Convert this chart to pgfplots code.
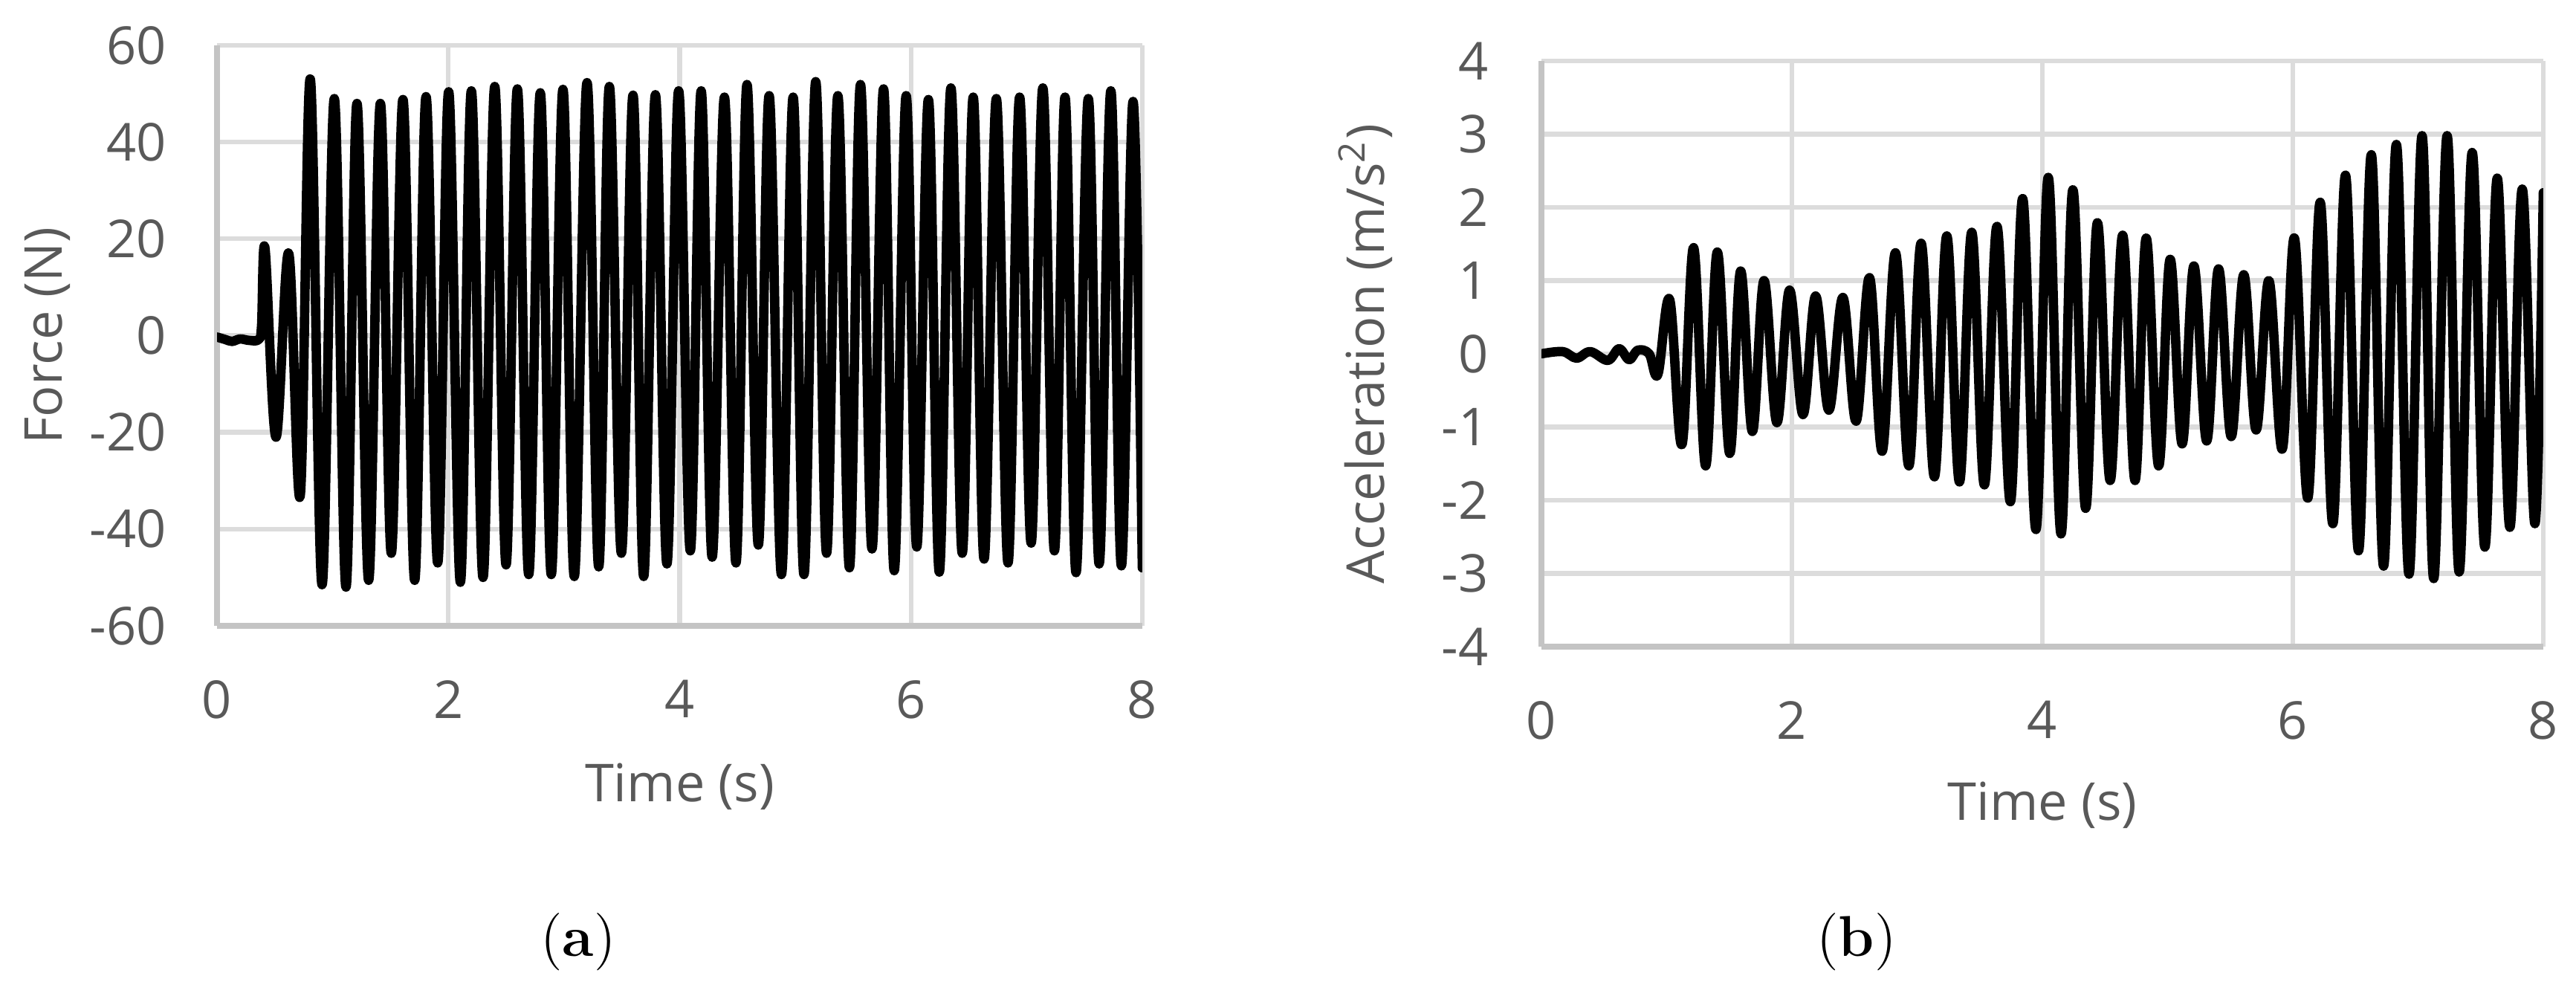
\documentclass[border=0pt]{standalone}
\usepackage{fontspec}
\usepackage{pgfplots}
\pgfplotsset{compat=1.18}
\newfontfamily\chartfont{Open Sans}
\definecolor{txtgray}{HTML}{595959}
\definecolor{gridgray}{HTML}{DCDCDC}
\definecolor{axgray}{HTML}{C4C4C4}

\pgfplotsset{
  excel/.style={
    scale only axis,
    xmin=0, xmax=8, xtick={0,2,4,6,8},
    axis x line*=bottom, axis y line*=left,
    axis line style={-, axgray, line width=1.2pt},
    grid=major,
    major grid style={gridgray, line width=0.9pt},
    major tick length=0pt,
    tick label style={font=\chartfont\fontsize{10}{12}\selectfont, text=txtgray},
    /pgf/number format/assume math mode=true,
    label style={font=\chartfont\fontsize{10}{12}\selectfont, text=txtgray},
    xticklabel shift=0.243cm,
  },
  sig/.style={black, line width=1.8pt, smooth, tension=0.6, line join=round, line cap=round, no markers},
}

\pgfplotstableread{
t F
0 -0.3
0.07 -0.8
0.13 -1.2
0.2 -0.7
0.28 -1.0
0.36 -0.8
0.385 2
0.415 18
0.51 -21
0.62 17
0.72 -33
0.807 53
0.908 -51.5
1.014 49
1.115 -52
1.210 48
1.311 -50.6
1.412 48
1.507 -45
1.608 48.8
1.709 -50.6
1.807 49.4
1.908 -47
2.003 50.4
2.104 -51
2.199 50.6
2.300 -50
2.401 51.5
2.499 -47.4
2.597 51
2.695 -49.4
2.795 50.2
2.890 -49.4
2.991 50.9
3.089 -49.8
3.199 52.3
3.300 -47.8
3.392 51.5
3.496 -45
3.597 49.7
3.689 -49.8
3.790 49.8
3.890 -47.2
3.991 50.6
4.092 -44.5
4.186 50.6
4.281 -45.8
4.387 49.3
4.487 -47
4.582 51.9
4.680 -43.3
4.774 49.6
4.880 -49.4
4.981 49.3
5.075 -49.4
5.176 52.5
5.270 -45
5.368 49.6
5.468 -48
5.563 51.9
5.663 -44.1
5.763 51
5.855 -48.6
5.958 49.6
6.050 -43.7
6.151 48.8
6.245 -48.9
6.345 51.2
6.443 -45
6.538 49.3
6.632 -46.2
6.738 49
6.839 -47
6.939 49.3
7.039 -42.9
7.140 51.2
7.240 -44.5
7.332 49.3
7.427 -49
7.533 49
7.627 -47.2
7.728 50.6
7.819 -47.6
7.920 48.4
8.0 -48
}\forcedata

\pgfplotstableread{
t A
0 0
0.17 0.03
0.28 -0.06
0.39 0.03
0.53 -0.09
0.62 0.07
0.70 -0.08
0.77 0.05
0.86 0.0
0.93 -0.28
1.024 0.74
1.122 -1.24
1.215 1.45
1.311 -1.53
1.404 1.39
1.503 -1.36
1.590 1.13
1.684 -1.06
1.777 1.0
1.880 -0.94
1.981 0.87
2.088 -0.83
2.189 0.79
2.295 -0.77
2.407 0.77
2.513 -0.92
2.620 1.04
2.721 -1.33
2.827 1.38
2.934 -1.53
3.032 1.51
3.138 -1.68
3.237 1.61
3.338 -1.75
3.436 1.66
3.537 -1.79
3.638 1.74
3.745 -2.02
3.843 2.12
3.949 -2.40
4.047 2.41
4.149 -2.46
4.243 2.24
4.345 -2.11
4.439 1.79
4.541 -1.73
4.641 1.62
4.740 -1.73
4.829 1.58
4.928 -1.53
5.020 1.29
5.116 -1.23
5.210 1.20
5.312 -1.19
5.407 1.16
5.508 -1.13
5.608 1.08
5.707 -1.04
5.809 1.0
5.916 -1.30
6.013 1.58
6.120 -1.97
6.219 2.07
6.320 -2.32
6.421 2.44
6.525 -2.69
6.627 2.72
6.725 -2.90
6.827 2.86
6.928 -3.01
7.032 2.98
7.125 -3.07
7.232 2.98
7.328 -2.98
7.432 2.75
7.533 -2.64
7.632 2.40
7.733 -2.37
7.832 2.25
7.933 -2.32
8.0 2.2
}\accdata

\begin{document}
\begin{tikzpicture}
\useasboundingbox (0,0) rectangle (17.33,6.695);

\begin{axis}[excel,
  at={(1.46cm,2.485cm)}, anchor=south west,
  width=6.225cm, height=3.905cm,
  ymin=-60, ymax=60, ytick={-60,-40,-20,0,20,40,60},
  yticklabel shift=0.218cm,
  xlabel={Time (s)}, ylabel={Force (N)},
  xlabel style={at={(axis description cs:0.5,-0.2766)}, anchor=center},
  ylabel style={at={(axis description cs:-0.183,0.5)}, anchor=center},
]
\addplot[sig] table[x=t,y=F] {\forcedata};
\end{axis}

\begin{axis}[excel,
  at={(10.37cm,2.345cm)}, anchor=south west,
  width=6.74cm, height=3.94cm,
  ymin=-4, ymax=4, ytick={-4,-3,-2,-1,0,1,2,3,4},
  yticklabel shift=0.233cm,
  xlabel={Time (s)}, ylabel={Acceleration (m/s\textsuperscript{2})},
  xlabel style={at={(axis description cs:0.5,-0.2703)}, anchor=center},
  ylabel style={at={(axis description cs:-0.1758,0.5)}, anchor=center},
]
\addplot[sig] table[x=t,y=A] {\accdata};
\end{axis}

\node[font=\fontsize{11}{13}\selectfont] at (3.89,0.36) {(\textbf{a})};
\node[font=\fontsize{11}{13}\selectfont] at (12.49,0.36) {(\textbf{b})};
\end{tikzpicture}
\end{document}
